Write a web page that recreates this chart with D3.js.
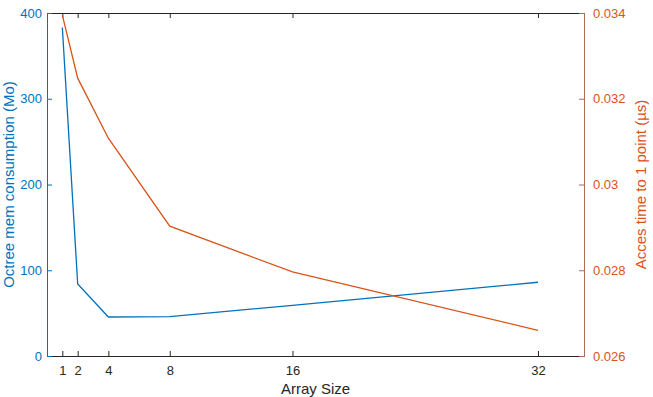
<!DOCTYPE html>
<html>
<head>
<meta charset="utf-8">
<script src="https://cdn.jsdelivr.net/npm/d3@7"></script>
<style>
  body { margin: 0; background: #fff; }
  text { font-family: "Liberation Sans", Arial, sans-serif; }
</style>
</head>
<body>
<div id="chart"></div>
<script>
// Our canvas
const width = 653,
  height = 397,
  plotLeft = 47, plotRight = 584, plotTop = 13, plotBottom = 356

// Data
const arraySizes = [1, 2, 4, 8, 16, 32]
const memMo = [383, 84, 45.5, 46, 59, 86]
const accessUs = [0.03395, 0.03248, 0.03108, 0.02903, 0.02796, 0.0266]
const xTicks = [1, 2, 4, 8, 16, 32]
const leftTicks = [0, 100, 200, 300, 400]
const rightTicks = [0.026, 0.028, 0.03, 0.032, 0.034]

const blue = '#0072BD', orange = '#D95319', dark = '#262626', rightAxis = '#AD6A52'

let svg = d3.select('#chart')
  .append('svg')
  .attr('width', width)
  .attr('height', height)

const x = d3.scaleLinear().domain([0, 35]).range([plotLeft, plotRight])
const yL = d3.scaleLinear().domain([0, 400]).range([plotBottom, plotTop])
const yR = d3.scaleLinear().domain([0.026, 0.034]).range([plotBottom, plotTop])

// top box line with inward ticks
svg.append('g')
  .attr('transform', `translate(0,${plotTop})`)
  .call(d3.axisTop(x).tickValues(xTicks).tickSize(-5).tickFormat(''))
  .call(g => g.select('.domain').attr('stroke', dark))
  .call(g => g.selectAll('.tick line').attr('stroke', dark))

// bottom axis
svg.append('g')
  .attr('transform', `translate(0,${plotBottom})`)
  .call(d3.axisBottom(x).tickValues(xTicks).tickSize(-5).tickPadding(10))
  .call(g => g.select('.domain').attr('stroke', dark))
  .call(g => g.selectAll('.tick line').attr('stroke', dark))
  .call(g => g.selectAll('.tick text').attr('fill', dark).attr('font-size', 13))

// left axis
svg.append('g')
  .attr('transform', `translate(${plotLeft},0)`)
  .call(d3.axisLeft(yL).tickValues(leftTicks).tickSize(-5).tickPadding(5))
  .call(g => g.select('.domain').attr('stroke', blue))
  .call(g => g.selectAll('.tick line').attr('stroke', blue))
  .call(g => g.selectAll('.tick text').attr('fill', blue).attr('font-size', 13))

// right axis
svg.append('g')
  .attr('transform', `translate(${plotRight},0)`)
  .call(d3.axisRight(yR).tickValues(rightTicks).tickSize(-5).tickPadding(9)
    .tickFormat(d => String(+d.toFixed(3))))
  .call(g => g.select('.domain').attr('stroke', rightAxis))
  .call(g => g.selectAll('.tick line').attr('stroke', rightAxis))
  .call(g => g.selectAll('.tick text').attr('fill', orange).attr('font-size', 13))

// lines
svg.append('path')
  .datum(arraySizes.map((d, i) => [d, memMo[i]]))
  .attr('fill', 'none')
  .attr('stroke', blue)
  .attr('stroke-width', 1.3)
  .attr('d', d3.line().x(d => x(d[0])).y(d => yL(d[1])))

svg.append('path')
  .datum(arraySizes.map((d, i) => [d, accessUs[i]]))
  .attr('fill', 'none')
  .attr('stroke', orange)
  .attr('stroke-width', 1.3)
  .attr('d', d3.line().x(d => x(d[0])).y(d => yR(d[1])))

// labels
svg.append('text')
  .attr('x', (plotLeft + plotRight) / 2)
  .attr('y', 394)
  .attr('text-anchor', 'middle')
  .attr('font-size', 15)
  .attr('fill', dark)
  .text('Array Size')

svg.append('text')
  .attr('transform', `translate(9,${(plotTop + plotBottom) / 2}) rotate(-90)`)
  .attr('dy', '0.35em')
  .attr('text-anchor', 'middle')
  .attr('font-size', 15)
  .attr('fill', blue)
  .text('Octree mem consumption (Mo)')

svg.append('text')
  .attr('transform', `translate(641,${(plotTop + plotBottom) / 2}) rotate(-90)`)
  .attr('dy', '0.35em')
  .attr('text-anchor', 'middle')
  .attr('font-size', 15)
  .attr('fill', orange)
  .text('Acces time to 1 point (µs)')
</script>
</body>
</html>
